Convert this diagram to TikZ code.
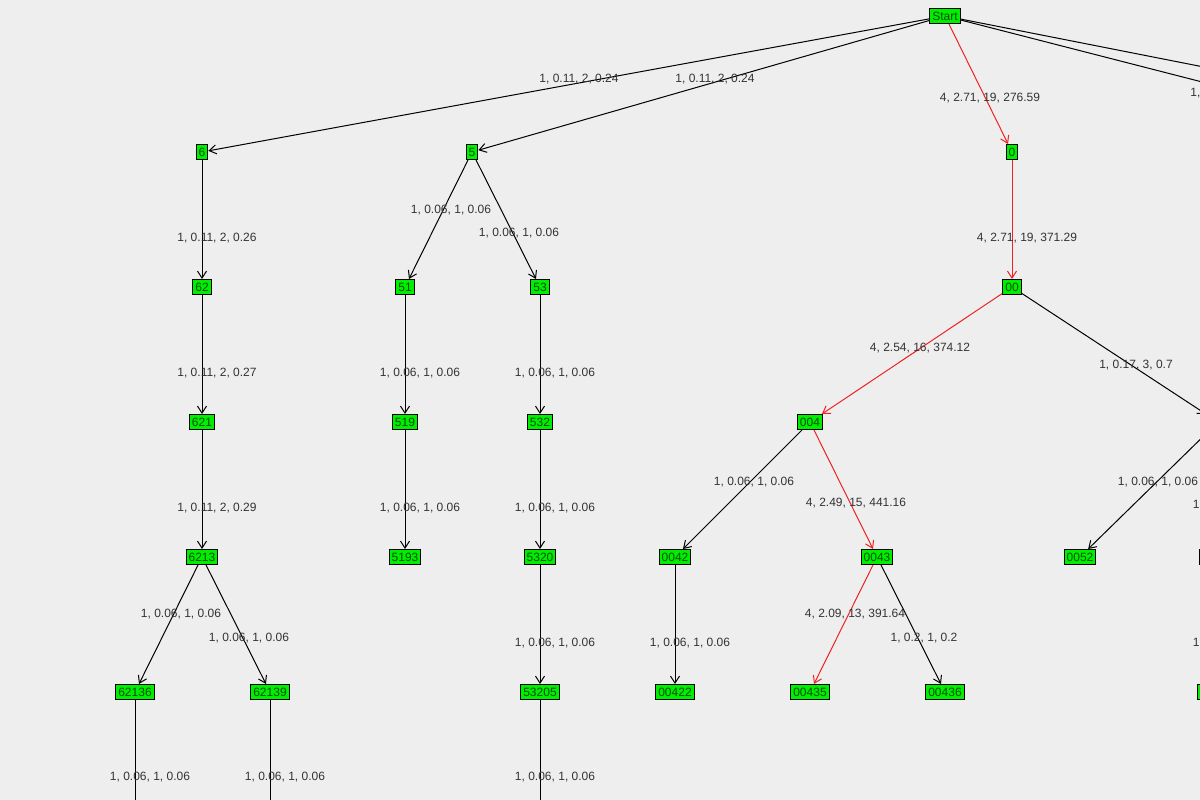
\documentclass[tikz,border=0pt]{standalone}
\usepackage{fontspec}
\setmainfont{Liberation Sans}
\usetikzlibrary{arrows.meta}
\definecolor{bg}{HTML}{EEEEEE}
\definecolor{ng}{HTML}{00EE00}
\definecolor{lab}{HTML}{333333}
\definecolor{rd}{HTML}{EE2222}
\begin{document}
\begin{tikzpicture}[x=1pt,y=-1pt,line width=1pt,
  nd/.style={draw=black,fill=ng,inner xsep=2.5pt,inner ysep=1pt,minimum height=15pt,font=\fontsize{12}{12}\selectfont,text=black!70!green},
  lb/.style={font=\fontsize{12}{12}\selectfont,text=lab},
  ed/.style={draw=black,-{Straight Barb[length=7pt,width=9pt,line width=1pt]}},
  re/.style={draw=rd,-{Straight Barb[length=7pt,width=9pt,line width=1pt]}}]
\fill[bg] (0,0) rectangle (1200,800);
\useasboundingbox (0,0) rectangle (1200,800);
\clip (0,0) rectangle (1200,800);
\node[nd] (S) at (945,16) {Start};
\node[nd] (n6) at (202,152) {6};
\node[nd] (n62) at (202,287) {62};
\node[nd] (n621) at (202,422) {621};
\node[nd] (n6213) at (202,557) {6213};
\node[nd] (n62136) at (135,692) {62136};
\node[nd] (n62139) at (270,692) {62139};
\node[nd] (n5) at (472,152) {5};
\node[nd] (n51) at (405,287) {51};
\node[nd] (n53) at (540,287) {53};
\node[nd] (n519) at (405,422) {519};
\node[nd] (n5193) at (405,557) {5193};
\node[nd] (n532) at (540,422) {532};
\node[nd] (n5320) at (540,557) {5320};
\node[nd] (n53205) at (540,692) {53205};
\node[nd] (n0) at (1012,152) {0};
\node[nd] (n00) at (1012,287) {00};
\node[nd] (n004) at (810,422) {004};
\node[nd] (n0042) at (675,557) {0042};
\node[nd] (n0043) at (877,557) {0043};
\node[nd] (n00422) at (675,692) {00422};
\node[nd] (n00435) at (810,692) {00435};
\node[nd] (n00436) at (945,692) {00436};
\node[nd] (n0052) at (1080,557) {0052};
\node[nd] (n005) at (1218,422) {005};
\node[nd] (n0053) at (1215,557) {0053};
\node[nd] (n00531) at (1217,692) {00531};
\node[nd] (nA) at (1635,152) {1};
\node[nd] (nB) at (1475,152) {2};
\coordinate (c1) at (135,810);
\coordinate (c2) at (270,810);
\coordinate (c3) at (540,810);
% edges
\draw[ed] (S) -- (n6);
\draw[ed] (S) -- (n5);
\draw[re] (S) -- (n0);
\draw[ed] (S) -- (nA);
\draw[ed] (S) -- (nB);
\draw[ed] (n6) -- (n62);
\draw[ed] (n62) -- (n621);
\draw[ed] (n621) -- (n6213);
\draw[ed] (n6213) -- (n62136);
\draw[ed] (n6213) -- (n62139);
\draw (n62136) -- (c1);
\draw (n62139) -- (c2);
\draw[ed] (n5) -- (n51);
\draw[ed] (n5) -- (n53);
\draw[ed] (n51) -- (n519);
\draw[ed] (n519) -- (n5193);
\draw[ed] (n53) -- (n532);
\draw[ed] (n532) -- (n5320);
\draw[ed] (n5320) -- (n53205);
\draw (n53205) -- (c3);
\draw[re] (n0) -- (n00);
\draw[re] (n00) -- (n004);
\draw[ed] (n00) -- (n005);
\draw[ed] (n004) -- (n0042);
\draw[re] (n004) -- (n0043);
\draw[ed] (n0042) -- (n00422);
\draw[re] (n0043) -- (n00435);
\draw[ed] (n0043) -- (n00436);
\draw[ed] (n005) -- (n0052);
\draw[ed] (n005) -- (n0053);
\draw[ed] (n0053) -- (n00531);
% labels
\node[lb] at (579,79) {1, 0.11, 2, 0.24};
\node[lb] at (715,79) {1, 0.11, 2, 0.24};
\node[lb] at (990,98) {4, 2.71, 19, 276.59};
\node[lb] at (1230,93) {1, 0.11, 2, 0.24};
\node[lb] at (217,238) {1, 0.11, 2, 0.26};
\node[lb] at (451,210) {1, 0.06, 1, 0.06};
\node[lb] at (519,233) {1, 0.06, 1, 0.06};
\node[lb] at (1027,238) {4, 2.71, 19, 371.29};
\node[lb] at (217,373) {1, 0.11, 2, 0.27};
\node[lb] at (420,373) {1, 0.06, 1, 0.06};
\node[lb] at (555,373) {1, 0.06, 1, 0.06};
\node[lb] at (920,348) {4, 2.54, 16, 374.12};
\node[lb] at (1136,365) {1, 0.17, 3, 0.7};
\node[lb] at (217,508) {1, 0.11, 2, 0.29};
\node[lb] at (420,508) {1, 0.06, 1, 0.06};
\node[lb] at (555,508) {1, 0.06, 1, 0.06};
\node[lb] at (754,482) {1, 0.06, 1, 0.06};
\node[lb] at (856,503) {4, 2.49, 15, 441.16};
\node[lb] at (1158,482) {1, 0.06, 1, 0.06};
\node[lb] at (1233,505) {1, 0.06, 1, 0.06};
\node[lb] at (181,614) {1, 0.06, 1, 0.06};
\node[lb] at (249,638) {1, 0.06, 1, 0.06};
\node[lb] at (555,643) {1, 0.06, 1, 0.06};
\node[lb] at (690,643) {1, 0.06, 1, 0.06};
\node[lb] at (855,614) {4, 2.09, 13, 391.64};
\node[lb] at (924,638) {1, 0.2, 1, 0.2};
\node[lb] at (1233,643) {1, 0.06, 1, 0.06};
\node[lb] at (150,777) {1, 0.06, 1, 0.06};
\node[lb] at (285,777) {1, 0.06, 1, 0.06};
\node[lb] at (555,777) {1, 0.06, 1, 0.06};
\end{tikzpicture}
\end{document}
